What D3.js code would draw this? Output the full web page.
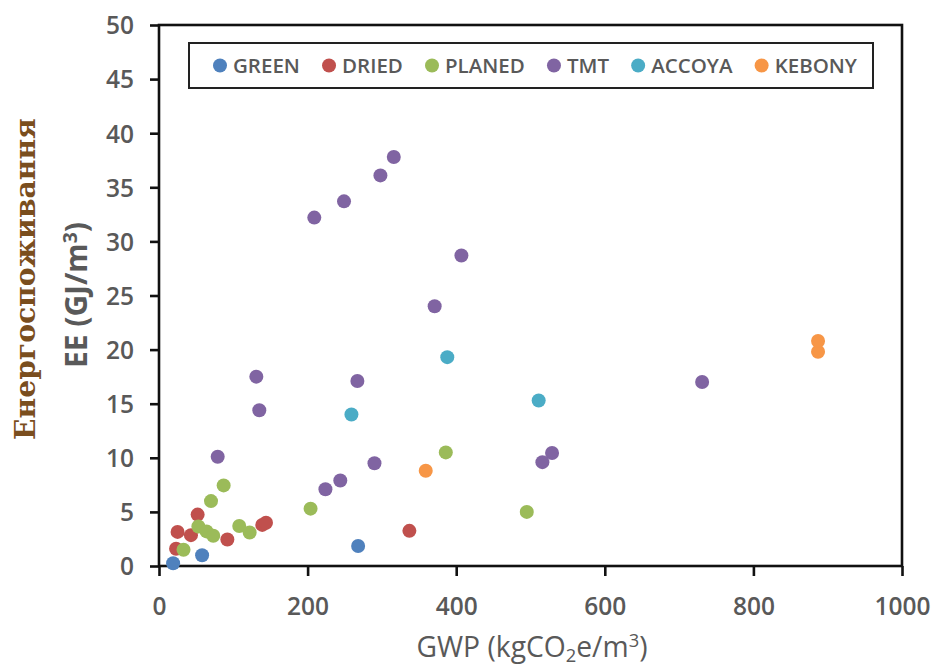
<!DOCTYPE html>
<html>
<head>
<meta charset="utf-8">
<script src="https://cdn.jsdelivr.net/npm/d3@7"></script>
<style>
  html, body { margin: 0; padding: 0; background: #ffffff; }
  svg { display: block; }
</style>
</head>
<body>
<svg id="chart" width="936" height="671"></svg>
<script>
// Series: [GWP (kgCO2e/m3), EE (GJ/m3)]
const green  = [[19, 0.25], [58, 1.0], [268, 1.85]];
const dried  = [[23, 1.6], [25, 3.15], [43, 2.85], [52, 4.75], [92, 2.45], [139, 3.8], [144, 4.0], [337, 3.25]];
const planed = [[33, 1.5], [53, 3.65], [64, 3.2], [73, 2.8], [70, 6.0], [87, 7.45], [108, 3.7], [122, 3.1], [204, 5.3], [386, 10.5], [495, 5.0]];
const tmt    = [[79, 10.1], [131, 17.5], [135, 14.4], [209, 32.2], [224, 7.1], [244, 7.9], [249, 33.7], [267, 17.1],
                [290, 9.5], [298, 36.1], [316, 37.8], [371, 24.0], [407, 28.7], [516, 9.6], [529, 10.45], [731, 17.0]];
const accoya = [[259, 14.0], [388, 19.3], [511, 15.3]];
const kebony = [[359, 8.8], [887, 19.8], [887, 20.8]];

const seriesNames  = ["GREEN", "DRIED", "PLANED", "TMT", "ACCOYA", "KEBONY"];
const seriesData   = [green, dried, planed, tmt, accoya, kebony];
const seriesColors = ["#4F81BD", "#C0504D", "#9BBB59", "#8064A2", "#4BACC6", "#F79646"];

const xTicks = [0, 200, 400, 600, 800, 1000];
const yTicks = [0, 5, 10, 15, 20, 25, 30, 35, 40, 45, 50];

const svg = d3.select("#chart");
const font = "'Open Sans', 'Liberation Sans', sans-serif";
const grey = "#595959";

// Plot area
const plot = { left: 159, right: 902, top: 25, bottom: 566 };
const x = d3.scaleLinear().domain([0, 1000]).range([plot.left, plot.right]);
const y = d3.scaleLinear().domain([0, 50]).range([plot.bottom, plot.top]);

// Frame
svg.append("rect")
  .attr("x", plot.left).attr("y", plot.top)
  .attr("width", plot.right - plot.left).attr("height", plot.bottom - plot.top)
  .attr("fill", "none").attr("stroke", "#111").attr("stroke-width", 2.6);

// Axes
const xAxis = svg.append("g")
  .attr("transform", `translate(0,${plot.bottom})`)
  .call(d3.axisBottom(x).tickValues(xTicks).tickSize(10).tickFormat(d3.format("d")));
const yAxis = svg.append("g")
  .attr("transform", `translate(${plot.left},0)`)
  .call(d3.axisLeft(y).tickValues(yTicks).tickSize(9).tickPadding(16).tickFormat(d3.format("d")));

[xAxis, yAxis].forEach(g => {
  g.select(".domain").remove();
  g.selectAll(".tick line").attr("stroke", "#111").attr("stroke-width", 2.6);
  g.selectAll(".tick text")
    .attr("fill", grey)
    .attr("font-family", font)
    .attr("font-size", 24.5)
    .attr("font-weight", 600);
});
yAxis.selectAll(".tick text").attr("dy", "0.36em");
xAxis.selectAll(".tick text").attr("dy", 0).attr("y", 49);

// Points
seriesData.forEach((pts, i) => {
  svg.append("g")
    .selectAll("circle")
    .data(pts)
    .join("circle")
    .attr("cx", d => x(d[0]))
    .attr("cy", d => y(d[1]))
    .attr("r", 7)
    .attr("fill", seriesColors[i]);
});

// Fit a text element to a target width by adjusting its font size
function fitWidth(sel, target) {
  const size = +sel.attr("font-size");
  const w = sel.node().getComputedTextLength();
  sel.attr("font-size", size * target / w);
}

// Legend
const legendBox = { x: 189, y: 43, w: 684, h: 45 };
svg.append("rect")
  .attr("x", legendBox.x).attr("y", legendBox.y)
  .attr("width", legendBox.w).attr("height", legendBox.h)
  .attr("fill", "#fff").attr("stroke", "#222").attr("stroke-width", 2);

const legend = svg.append("g");
const legendMid = legendBox.y + legendBox.h / 2;
const labels = seriesNames.map(name => legend.append("text")
  .attr("font-family", font).attr("font-size", 20.5).attr("font-weight", 600)
  .attr("fill", grey).attr("dy", "0.36em").attr("y", legendMid).text(name));
const widths = labels.map(t => t.node().getComputedTextLength());
const startX = 220, endX = 857, markerToText = 13;
const totalText = d3.sum(widths) + markerToText * seriesNames.length;
const gap = (endX - startX - totalText) / (seriesNames.length - 1);
let cx = startX;
seriesNames.forEach((name, i) => {
  legend.append("circle").attr("cx", cx).attr("cy", legendMid).attr("r", 7).attr("fill", seriesColors[i]);
  labels[i].attr("x", cx + markerToText);
  cx += markerToText + widths[i] + gap;
});

// X axis title
const xTitle = svg.append("text")
  .attr("x", 532).attr("y", 657)
  .attr("text-anchor", "middle")
  .attr("font-family", font).attr("font-size", 24).attr("font-weight", 500)
  .attr("fill", grey);
xTitle.append("tspan").text("GWP (kgCO");
xTitle.append("tspan").attr("font-size", "0.65em").attr("baseline-shift", "-25%").text("2");
xTitle.append("tspan").text("e/m");
xTitle.append("tspan").attr("font-size", "0.65em").attr("baseline-shift", "55%").text("3");
xTitle.append("tspan").text(")");
fitWidth(xTitle, 231);

// Y axis title
const yTitle = svg.append("text")
  .attr("transform", "translate(87,295) rotate(-90)")
  .attr("text-anchor", "middle")
  .attr("font-family", font).attr("font-size", 28).attr("font-weight", 700)
  .attr("fill", grey);
yTitle.append("tspan").text("EE (GJ/m");
yTitle.append("tspan").attr("font-size", "0.65em").attr("baseline-shift", "55%").text("3");
yTitle.append("tspan").text(")");
fitWidth(yTitle, 146);

// Side caption
const caption = svg.append("text")
  .attr("transform", "translate(34.5,279) rotate(-90)")
  .attr("text-anchor", "middle")
  .attr("font-family", "'DejaVu Serif', 'Liberation Serif', serif")
  .attr("font-size", 30).attr("font-weight", 700)
  .attr("fill", "#7A4E1E")
  .text("Енергоспоживання");
fitWidth(caption, 322);
</script>
</body>
</html>
